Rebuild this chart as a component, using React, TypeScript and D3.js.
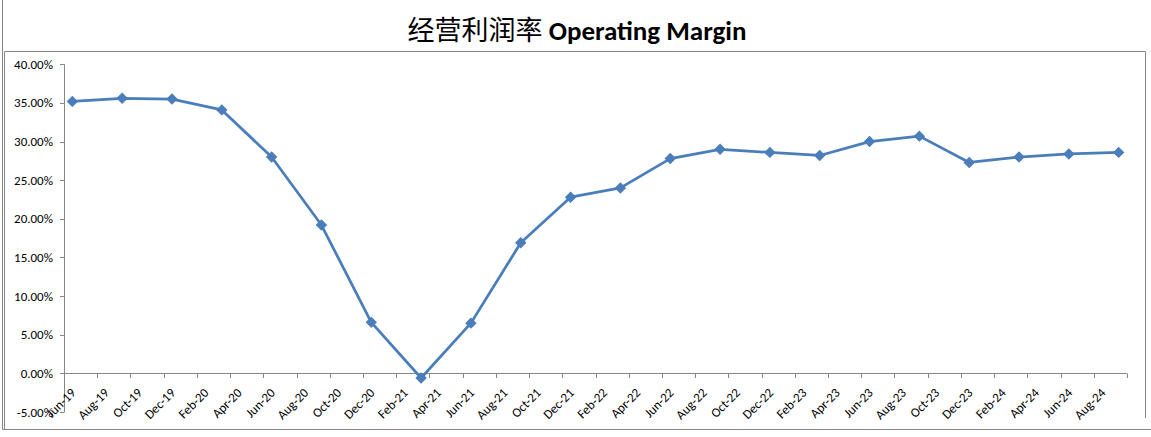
import React from "react";
import * as d3 from "d3";

const months: string[] = [
  "Jun-19","Jul-19","Aug-19","Sep-19","Oct-19","Nov-19","Dec-19",
  "Jan-20","Feb-20","Mar-20","Apr-20","May-20","Jun-20","Jul-20","Aug-20","Sep-20","Oct-20","Nov-20","Dec-20",
  "Jan-21","Feb-21","Mar-21","Apr-21","May-21","Jun-21","Jul-21","Aug-21","Sep-21","Oct-21","Nov-21","Dec-21",
  "Jan-22","Feb-22","Mar-22","Apr-22","May-22","Jun-22","Jul-22","Aug-22","Sep-22","Oct-22","Nov-22","Dec-22",
  "Jan-23","Feb-23","Mar-23","Apr-23","May-23","Jun-23","Jul-23","Aug-23","Sep-23","Oct-23","Nov-23","Dec-23",
  "Jan-24","Feb-24","Mar-24","Apr-24","May-24","Jun-24","Jul-24","Aug-24","Sep-24",
];

const labelMonths: string[] = [
  "Jun-19","Aug-19","Oct-19","Dec-19","Feb-20","Apr-20","Jun-20","Aug-20","Oct-20","Dec-20",
  "Feb-21","Apr-21","Jun-21","Aug-21","Oct-21","Dec-21","Feb-22","Apr-22","Jun-22","Aug-22",
  "Oct-22","Dec-22","Feb-23","Apr-23","Jun-23","Aug-23","Oct-23","Dec-23","Feb-24","Apr-24",
  "Jun-24","Aug-24",
];

const pointMonths: string[] = [
  "Jun-19","Sep-19","Dec-19","Mar-20","Jun-20","Sep-20","Dec-20","Mar-21","Jun-21","Sep-21","Dec-21",
  "Mar-22","Jun-22","Sep-22","Dec-22","Mar-23","Jun-23","Sep-23","Dec-23","Mar-24","Jun-24","Sep-24",
];

const margins: number[] = [
  35.2, 35.6, 35.5, 34.1, 28.0, 19.2, 6.6, -0.6, 6.5, 16.9, 22.8,
  24.0, 27.8, 29.0, 28.6, 28.2, 30.0, 30.7, 27.3, 28.0, 28.4, 28.6,
];

const yTicks: number[] = [-5, 0, 5, 10, 15, 20, 25, 30, 35, 40];

const W = 1151;
const H = 437;
const font = "Carlito, Calibri, Lato, 'Liberation Sans', sans-serif";
const blue = "#4A7EBB";
const gray = "#868686";

export default function App() {
  const x = d3.scaleBand<string>().domain(months).range([64, 1127]).padding(0);
  const y = d3.scaleLinear().domain([-5, 40]).range([412, 64.3]);
  const cx = (m: string) => (x(m) as number) + x.bandwidth() / 2;

  const line = d3
    .line<number>()
    .x((_, i) => cx(pointMonths[i]))
    .y((d) => y(d));

  const marker = d3.symbol().type(d3.symbolSquare).size(50)() as string;

  const tickIdx = d3.range(0, months.length + 1, 2);
  const y0 = y(0);

  return (
    <svg
      width={W}
      height={H}
      style={{ position: "absolute", left: 0, top: 0, background: "#fff" }}
    >
      <rect x={0} y={0} width={W} height={H} fill="#fff" />
      {/* chart area border */}
      <line x1={2.5} y1={0} x2={2.5} y2={429.5} stroke={gray} strokeWidth={1} />
      <line x1={2.5} y1={429.5} x2={W} y2={429.5} stroke={gray} strokeWidth={1} />
      {/* plot area border */}
      <polyline
        points={`4.5,429.5 4.5,51.5 1145.5,51.5 1145.5,418`}
        fill="none"
        stroke={gray}
        strokeWidth={1}
      />

      {/* title */}
      <text x={577} y={40} textAnchor="middle" fill="#000">
        <tspan fontFamily="'Noto Sans CJK SC', sans-serif" fontSize={27}>
          经营利润率{" "}
        </tspan>
        <tspan fontFamily={font} fontWeight="bold" fontSize={27}>
          Operating Margin
        </tspan>
      </text>

      {/* y axis */}
      <line x1={64.5} y1={y(40)} x2={64.5} y2={y(-5)} stroke={gray} />
      {yTicks.map((t) => (
        <g key={t}>
          <line x1={60} x2={64.5} y1={Math.round(y(t)) + 0.5} y2={Math.round(y(t)) + 0.5} stroke={gray} />
          <text
            x={53}
            y={y(t)}
            dy="0.35em"
            textAnchor="end"
            fontFamily={font}
            fontSize={13}
            fill="#000"
          >
            {t.toFixed(2) + "%"}
          </text>
        </g>
      ))}

      {/* x axis */}
      <line x1={64} x2={1127} y1={Math.round(y0) + 0.5} y2={Math.round(y0) + 0.5} stroke={gray} />
      {tickIdx.map((i) => {
        const xx = Math.round(64 + i * x.bandwidth()) + 0.5;
        return (
          <line key={i} x1={xx} x2={xx} y1={Math.round(y0) + 0.5} y2={Math.round(y0) + 5} stroke={gray} />
        );
      })}
      {labelMonths.map((m) => {
        const px = cx(m) + 1;
        const py = y0 + 17;
        return (
          <text
            key={m}
            transform={`translate(${px},${py}) rotate(-45)`}
            textAnchor="end"
            dy="0.35em"
            fontFamily={font}
            fontSize={13}
            fill="#000"
          >
            {m}
          </text>
        );
      })}

      {/* series */}
      <path d={line(margins) as string} fill="none" stroke={blue} strokeWidth={2.75} strokeLinejoin="round" />
      {margins.map((v, i) => (
        <path
          key={i}
          d={marker}
          transform={`translate(${cx(pointMonths[i])},${y(v)}) rotate(45)`}
          fill={blue}
          stroke={blue}
          strokeWidth={1}
        />
      ))}
    </svg>
  );
}
